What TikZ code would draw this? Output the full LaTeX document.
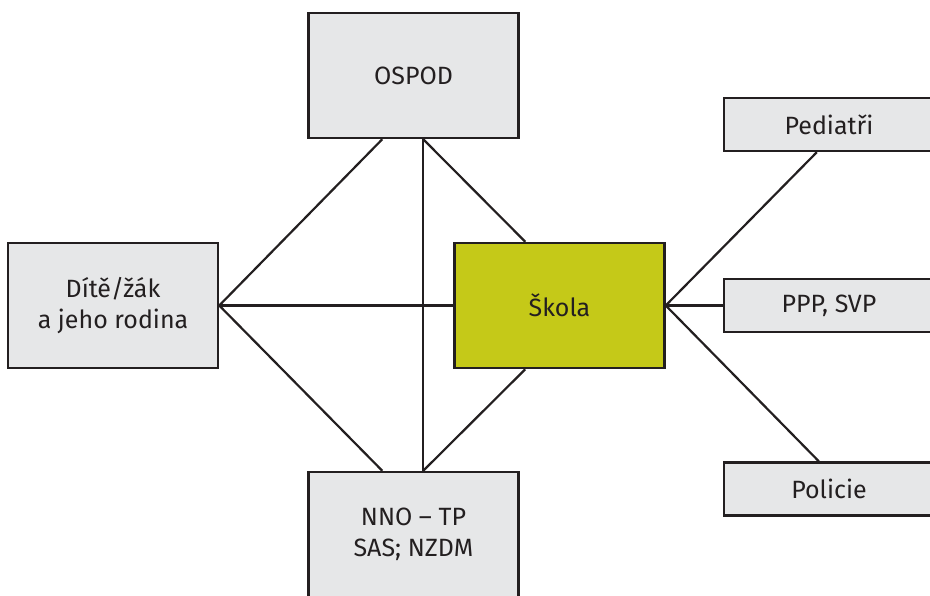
\documentclass[tikz,border=0pt]{standalone}
\usepackage{fontspec}
\setmainfont{Fira Sans}
\usetikzlibrary{backgrounds}
\definecolor{boxgray}{HTML}{E6E7E8}
\definecolor{skolafill}{HTML}{C5C918}
\definecolor{ink}{HTML}{231F20}
\begin{document}
\begin{tikzpicture}[x=1pt,y=-1pt,
  box/.style={draw=ink, line width=2.5pt, fill=boxgray, minimum width=210pt, minimum height=125pt, inner sep=0pt, align=center, font=\fontsize{25}{31}\selectfont, text=ink},
  smallbox/.style={box, minimum height=53pt},
  conn/.style={draw=ink, line width=2.2pt}]
\useasboundingbox (0,0) rectangle (930,595);
\clip (0,0) rectangle (930,595);
\node[box] (ospod) at (413.5,75.5) {OSPOD};
\node[box] (dite) at (113,305.5) {Dítě/žák\\a jeho rodina};
\node[box, fill=skolafill] (skola) at (559.5,305.5) {Škola};
\node[box] (nno) at (413.5,534.5) {NNO – TP\\SAS; NZDM};
\node[smallbox] (ped) at (829,124.5) {Pediatři};
\node[smallbox] (ppp) at (829,305.5) {PPP, SVP};
\node[smallbox] (pol) at (829,489) {Policie};
\begin{scope}[on background layer]
\draw[conn] (dite.east) -- ([xshift=75pt]ospod.south west);
\draw[conn] (dite.east) -- (skola.west);
\draw[conn] (dite.east) -- ([xshift=75pt]nno.north west);
\draw[conn] ([xshift=116pt]ospod.south west) -- ([xshift=116pt]nno.north west);
\draw[conn] ([xshift=116pt]ospod.south west) -- ([xshift=72pt]skola.north west);
\draw[conn] ([xshift=116pt]nno.north west) -- ([xshift=72pt]skola.south west);
\draw[conn] (skola.east) -- ([xshift=94pt]ped.south west);
\draw[conn, line width=3pt] (skola.east) -- (ppp.west);
\draw[conn] (skola.east) -- ([xshift=96pt]pol.north west);
\end{scope}
\end{tikzpicture}
\end{document}
